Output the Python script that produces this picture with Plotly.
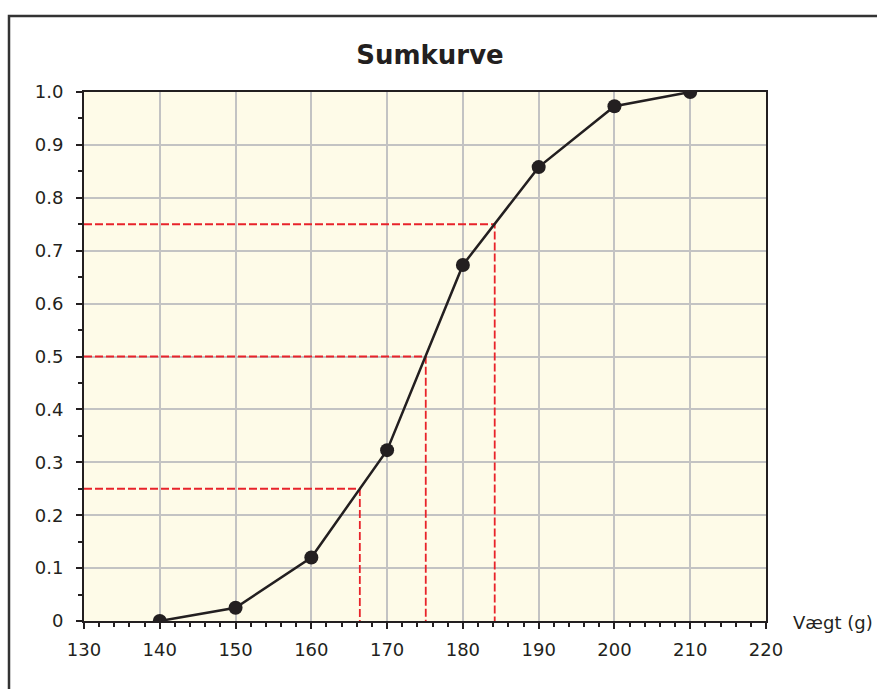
import plotly.graph_objects as go

weights = [140, 150, 160, 170, 180, 190, 200, 210]
cum_freq = [0.0, 0.025, 0.12, 0.323, 0.673, 0.858, 0.973, 1.0]
quart_levels = [0.25, 0.5, 0.75]
quart_x = [166.4, 175.1, 184.2]
x_ticks = [130, 140, 150, 160, 170, 180, 190, 200, 210, 220]
y_ticks = [0, 0.1, 0.2, 0.3, 0.4, 0.5, 0.6, 0.7, 0.8, 0.9, 1.0]
y_tick_labels = ["0", "0.1", "0.2", "0.3", "0.4", "0.5", "0.6", "0.7", "0.8", "0.9", "1.0"]

W, H = 877, 689
# plot area in screenshot pixels: x 84..766, y 92..621
L, T = 84, 92
pw, ph = 766 - 84, 621 - 92
R, B = W - L - pw, H - T - ph

def px_x(p):
    return (p - L) / pw

def px_y(p):
    return (T + ph - p) / ph

ink = "#231F20"
font = "DejaVu Sans, Verdana, sans-serif"

fig = go.Figure()
for q, xv in zip(quart_levels, quart_x):
    fig.add_trace(go.Scatter(
        x=[x_ticks[0], xv, xv], y=[q, q, 0], mode="lines",
        line=dict(color="#E8232A", width=1.8, dash="8px,3px"),
        hoverinfo="skip", showlegend=False))

fig.add_trace(go.Scatter(
    x=weights, y=cum_freq, mode="lines+markers",
    line=dict(color=ink, width=2.5),
    marker=dict(size=14, color=ink),
    showlegend=False))

axis_common = dict(
    showgrid=True, gridcolor="#C3C3C3", gridwidth=2,
    showline=True, linecolor=ink, linewidth=2, mirror=True,
    ticks="outside", ticklen=6, tickwidth=1.5, tickcolor=ink,
    tickfont=dict(family=font, size=18, color=ink),
    zeroline=False,
)

fig.update_layout(
    width=W, height=H,
    margin=dict(l=L, r=R, t=T, b=B),
    paper_bgcolor="white",
    plot_bgcolor="#FEFBE8",
    title=dict(text="<b>Sumkurve</b>", font=dict(family=font, size=26, color=ink),
               xref="paper", x=px_x(430), xanchor="center",
               yref="container", y=1 - 55 / H, yanchor="middle"),
    xaxis=dict(range=[130, 220], tickvals=x_ticks, ticklabelstandoff=5,
               minor=dict(dtick=2, tick0=130, ticks="outside", ticklen=4, tickwidth=1.5,
                          tickcolor=ink, showgrid=False),
               **axis_common),
    yaxis=dict(range=[0, 1], tickvals=y_ticks, ticktext=y_tick_labels, ticklabelstandoff=9,
               minor=dict(dtick=0.05, tick0=0, ticks="outside", ticklen=4, tickwidth=1.5,
                          tickcolor=ink, showgrid=False),
               **axis_common),
    annotations=[dict(text="Vægt (g)", xref="paper", yref="paper",
                      x=px_x(791), y=px_y(622), xanchor="left", yanchor="middle",
                      showarrow=False, font=dict(family=font, size=18, color=ink))],
    shapes=[dict(type="path", xref="paper", yref="paper",
                 path=f"M {px_x(9)} {px_y(700)} L {px_x(9)} {px_y(16)} L {px_x(890)} {px_y(16)}",
                 line=dict(color="#333333", width=2.5), layer="above")],
)

fig.write_html(
    "out.html",
    config={"displayModeBar": False},
    post_script="document.body.style.margin='0';document.body.style.overflow='hidden';",
)
